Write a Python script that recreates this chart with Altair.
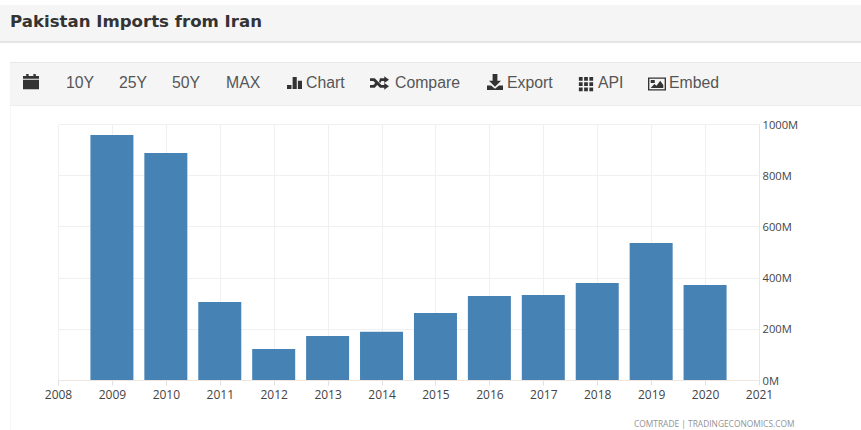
import altair as alt
import pandas as pd

# Annual imports, in millions of US dollars
years = [2009, 2010, 2011, 2012, 2013, 2014, 2015, 2016, 2017, 2018, 2019, 2020]
imports_musd = [957, 887, 305, 121, 172, 188, 262, 328, 332, 379, 535, 371]

title_text = "Pakistan Imports from Iran"
source_text = "COMTRADE | TRADINGECONOMICS.COM"
toolbar_labels = ["10Y", "25Y", "50Y", "MAX", "Chart", "Compare", "Export", "API", "Embed"]
toolbar_x = [66, 119, 172, 226, 306, 395, 507, 598, 669]

x_ticks = list(range(2008, 2022))
y_ticks = [0, 200, 400, 600, 800, 1000]

# Page origin relative to the plot area
LEFT, TOP = 58, 124

one = alt.Data(values=[{"k": 0}])


def band(x0, x1, y0, y1, color):
    return alt.Chart(one).mark_rect(color=color).encode(
        x=alt.value(x0 - LEFT), x2=alt.value(x1 - LEFT),
        y=alt.value(y0 - TOP), y2=alt.value(y1 - TOP),
    )


def label(text, x, y, **style):
    return alt.Chart(one).mark_text(text=text, align="left", baseline="middle", **style).encode(
        x=alt.value(x - LEFT), y=alt.value(y - TOP),
    )


def icon(path, x, y, size=196):
    return alt.Chart(one).mark_point(
        shape=path, filled=True, color="#333333", opacity=1, size=size, strokeWidth=0
    ).encode(x=alt.value(x - LEFT), y=alt.value(y - TOP))


# Toolbar glyphs, drawn on a -1..1 square
calendar = "M-1,-0.75H-0.6V-1H-0.3V-0.75H0.3V-1H0.6V-0.75H1V-0.4H-1ZM-1,-0.28H1V0.9H-1Z"
bars = "M-1,0.25H-0.4V0.8H-1ZM-0.25,-0.8H0.3V0.8H-0.25ZM0.45,-0.3H1V0.8H0.45Z"
shuffle = ("M-1,-0.5H-0.5L0.2,0.2H0.5V0L1,0.35L0.5,0.7V0.5H0.05L-0.65,-0.2H-1Z"
           "M-1,0.2H-0.65L-0.35,-0.1L-0.15,0.1L-0.5,0.5H-1Z"
           "M-0.05,-0.1L0.05,-0.5H0.5V-0.7L1,-0.35L0.5,0V-0.2H0.2L0.1,0Z")
download = ("M-0.3,-1H0.3V-0.15H0.75L0,0.6L-0.75,-0.15H-0.3Z"
            "M-1,0.45H-0.5L0,0.85L0.5,0.45H1V1H-1Z")
grid = "".join(
    f"M{x},{y}h0.5v0.5h-0.5Z"
    for x in (-0.95, -0.25, 0.45)
    for y in (-0.95, -0.25, 0.45)
)
picture = ("M-1,-0.72H1V0.72H-1ZM-0.85,-0.57V0.57H0.85V-0.57Z"
           "M-0.7,0.45L-0.3,0L-0.05,0.2L0.35,-0.35L0.7,0.1V0.45Z"
           "M-0.7,-0.45H-0.25V-0.1H-0.7Z")

chrome = [
    band(0, 861, 5, 41, "#f5f5f5"),
    band(0, 861, 41, 43, "#e6e6e6"),
    band(10, 861, 63, 105, "#f5f5f5"),
    band(10, 861, 62, 63, "#e8e8e8"),
    band(10, 861, 105, 106, "#ececec"),
    band(10, 11, 106, 430, "#f7f7f7"),
    label(title_text, 10, 22, font="DejaVu Sans", fontSize=16.6, fontWeight="bold", color="#333333"),
    icon(calendar, 31, 82, 256),
    icon(bars, 294.5, 83, 225),
    icon(shuffle, 379.5, 83, 361),
    icon(download, 495, 82, 256),
    icon(grid, 586, 84, 225),
    icon(picture, 657, 84, 324),
    label(source_text, 634, 424, font="Open Sans", fontSize=8.4, color="#888888", opacity=0.9),
]
chrome += [
    label(t, x, 83, font="Liberation Sans", fontSize=15.8, color="#555555")
    for t, x in zip(toolbar_labels, toolbar_x)
]

df = pd.DataFrame({"year": years, "imports": imports_musd})

bars_layer = alt.Chart(df).mark_bar(size=43, color="#4682b4").encode(
    x=alt.X(
        "year:Q",
        scale=alt.Scale(domain=[2008, 2021], nice=False, zero=False, padding=0),
        axis=alt.Axis(
            values=x_ticks, format="d", title=None, grid=True, gridColor="#f0f0f0",
            domain=True, domainColor="#f0e6e0", tickColor="#e0e0e0", tickSize=5,
            labelFont="Open Sans", labelFontSize=12, labelColor="#444444",
            labelPadding=4, labelOverlap=False, labelFlush=False,
        ),
    ),
    y=alt.Y(
        "imports:Q",
        scale=alt.Scale(domain=[0, 1000], nice=False),
        axis=alt.Axis(
            orient="right", values=y_ticks, labelExpr="datum.value + 'M'", title=None,
            grid=True, gridColor="#f0f0f0", domain=True, domainColor="#f0e6e0", ticks=False,
            labelFont="Open Sans", labelFontSize=11.2, labelColor="#444444",
            labelPadding=3, labelOverlap=False, labelOffset=1,
        ),
    ),
)

chart = alt.layer(*chrome, bars_layer).properties(
    width=701,
    height=256,
    padding={"left": LEFT, "top": TOP, "right": 102, "bottom": 50},
    autosize=alt.AutoSizeParams(type="none"),
    background="white",
).configure_view(stroke=None)

chart.save("out.html", embed_options={"renderer": "svg", "actions": False})
